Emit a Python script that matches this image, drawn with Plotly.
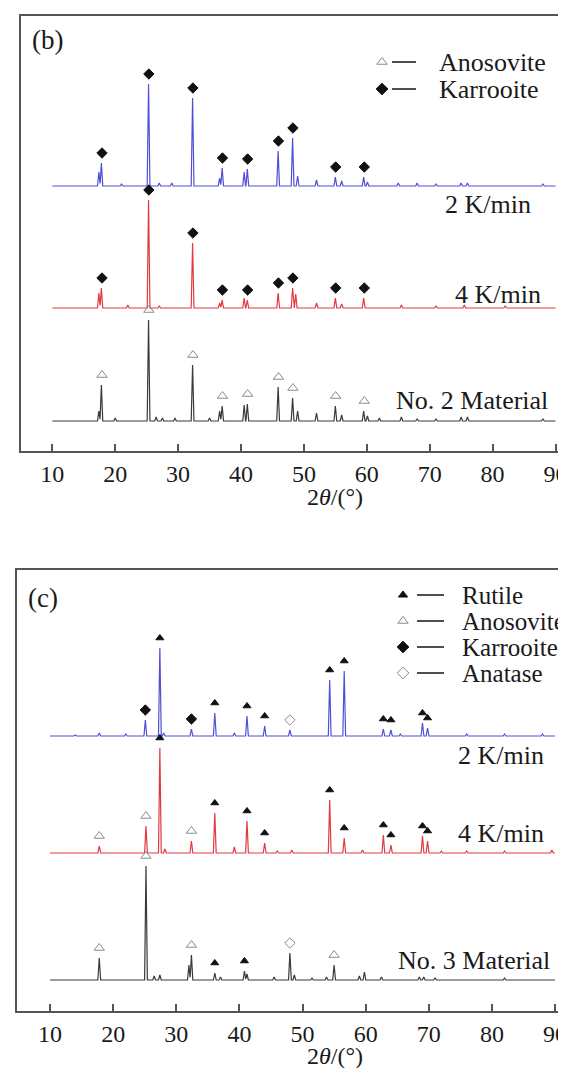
import plotly.graph_objects as go

W, H = 566, 1068
FONT = "Liberation Serif"

# ---------------- data: panel (b) ----------------
b_offsets = {"2 K/min": 265, "4 K/min": 143, "No. 2 Material": 30}

b_blue_pos = [17.4, 17.8, 21.0, 25.3, 27.0, 29.0, 32.3, 36.6, 37.0, 40.5, 41.0, 45.9, 48.2, 49.0, 52.0, 55.0, 56.0, 59.5, 60.1, 65.0, 68.0, 71.0, 75.0, 76.0, 88.0]
b_blue_int = [14, 23, 2, 102, 3, 3, 88, 8, 18, 14, 17, 35, 48, 10, 6, 9, 5, 9, 4, 3, 3, 2, 3, 3, 2]

b_red_pos = [17.4, 17.8, 22.0, 25.3, 27.0, 32.3, 36.6, 37.0, 40.5, 41.0, 45.9, 48.2, 48.7, 52.0, 55.0, 56.0, 59.5, 65.5, 71.0, 75.5, 82.0]
b_red_int = [15, 20, 3, 108, 2, 65, 5, 8, 10, 8, 15, 20, 14, 5, 10, 4, 10, 3, 2, 3, 2]

b_blk_pos = [17.4, 17.8, 20.0, 25.3, 26.5, 27.5, 29.5, 32.3, 35.0, 36.6, 37.0, 40.5, 41.0, 45.9, 48.2, 49.0, 52.0, 55.0, 56.0, 59.5, 60.1, 62.0, 65.5, 68.0, 71.0, 75.0, 76.0, 88.0]
b_blk_int = [10, 36, 3, 101, 4, 3, 3, 56, 3, 10, 15, 16, 17, 34, 23, 10, 8, 15, 6, 10, 5, 3, 4, 2, 2, 4, 4, 2]

b_karr_blue = [17.9, 25.35, 32.35, 37.05, 41.05, 45.95, 48.25, 55.05, 59.6]
b_karr_red = [17.9, 25.35, 32.35, 37.05, 41.05, 45.95, 48.25, 55.05, 59.6]
b_anos_blk = [17.9, 25.35, 32.35, 37.05, 41.05, 45.95, 48.25, 55.05, 59.6]

# ---------------- data: panel (c) ----------------
c_offsets = {"2 K/min": 275, "4 K/min": 158, "No. 3 Material": 31}

c_blue_pos = [14.0, 17.8, 22.0, 25.1, 27.4, 28.0, 32.4, 36.1, 39.2, 41.2, 44.0, 48.0, 54.3, 56.6, 62.8, 64.0, 65.5, 69.0, 69.8, 76.0, 82.0, 88.0]
c_blue_int = [1, 3, 2, 16, 88, 3, 7, 23, 3, 20, 10, 6, 56, 65, 7, 6, 2, 13, 8, 2, 2, 2]

c_red_pos = [17.8, 25.2, 27.4, 28.2, 32.4, 36.1, 39.2, 41.2, 44.0, 46.0, 48.3, 54.3, 56.6, 59.5, 62.8, 64.0, 69.0, 69.8, 72.0, 76.0, 82.0, 89.5]
c_red_int = [7, 27, 105, 4, 12, 40, 6, 32, 10, 2, 3, 53, 15, 3, 18, 8, 17, 12, 2, 2, 2, 3]

c_blk_pos = [17.8, 25.2, 26.5, 27.4, 32.0, 32.4, 36.1, 37.0, 40.8, 41.2, 45.5, 48.0, 48.7, 51.5, 53.8, 55.0, 59.0, 59.8, 62.5, 68.5, 69.2, 71.0, 82.0]
c_blk_int = [22, 114, 4, 5, 15, 25, 7, 3, 9, 6, 3, 27, 5, 2, 3, 15, 4, 8, 3, 3, 3, 2, 2]

c_rut_blue = [27.4, 36.1, 41.2, 44.0, 54.3, 56.6, 62.8, 64.0, 69.0, 69.8]
c_karr_blue = [25.1, 32.4]
c_anat_blue = [48.0]
c_rut_red = [27.4, 36.1, 41.2, 44.0, 54.3, 56.6, 62.8, 64.0, 69.0, 69.8]
c_anos_red = [17.8, 25.2, 32.4]
c_anos_blk = [17.8, 25.2, 32.4, 55.0]
c_rut_blk = [36.1, 40.8]
c_anat_blk = [48.0]

x_ticks = [10, 20, 30, 40, 50, 60, 70, 80, 90]

# ---------------- styles / layout geometry (pixels) ----------------
BLUE, RED, BLK = "#4f4fd8", "#e23a40", "#3a3a3a"
GREY = "#8a8a8a"
FRAME = "#555555"
HW = 0.22
GAP = 10

PB = dict(l=13, t=8, b=443, xr=[5.02, 92.94])
PC = dict(l=9, t=562, b=1003, xr=[4.77, 93.0])
for P in (PB, PC):
    P["yr"] = [0, P["b"] - P["t"]]


def px2data(P, px, py):
    x = P["xr"][0] + (px - P["l"]) / (W - P["l"]) * (P["xr"][1] - P["xr"][0])
    y = P["b"] - py
    return x, y


def profile(pos, inten, off):
    xs = {10.0, 90.0}
    for p in pos:
        xs.update([p - HW, p, p + HW])
    xs = sorted(x for x in xs if 10 <= x <= 90)
    ys = []
    for x in xs:
        s = 0.0
        for p, h in zip(pos, inten):
            d = abs(x - p)
            if d < HW:
                s += h * (1 - d / HW)
        ys.append(off + s)
    return xs, ys


def marker_y(pos, inten, off, marks):
    out = []
    for m in marks:
        hs = [h for p, h in zip(pos, inten) if abs(p - m) < 0.45]
        out.append(off + (max(hs) if hs else 0) + GAP)
    return out


fig = go.Figure()


def add_series(pos, inten, off, color, xa, ya):
    xs, ys = profile(pos, inten, off)
    fig.add_trace(go.Scatter(x=xs, y=ys, mode="lines", line=dict(color=color, width=1.2),
                             xaxis=xa, yaxis=ya, showlegend=False, hoverinfo="skip"))


def add_marks(xs, ys, symbol, color, size, xa, ya):
    fig.add_trace(go.Scatter(x=xs, y=ys, mode="markers",
                             marker=dict(symbol=symbol, color=color, size=size,
                                         line=dict(color=color, width=1)),
                             xaxis=xa, yaxis=ya, showlegend=False, hoverinfo="skip", cliponaxis=False))


def add_peak_marks(pos, inten, off, marks, symbol, color, size, xa, ya):
    add_marks(marks, marker_y(pos, inten, off, marks), symbol, color, size, xa, ya)


# panel (b)
ob = b_offsets
add_series(b_blue_pos, b_blue_int, ob["2 K/min"], BLUE, "x", "y")
add_series(b_red_pos, b_red_int, ob["4 K/min"], RED, "x", "y")
add_series(b_blk_pos, b_blk_int, ob["No. 2 Material"], BLK, "x", "y")
add_peak_marks(b_blue_pos, b_blue_int, ob["2 K/min"], b_karr_blue, "diamond", "#111111", 8, "x", "y")
add_peak_marks(b_red_pos, b_red_int, ob["4 K/min"], b_karr_red, "diamond", "#111111", 8, "x", "y")
add_peak_marks(b_blk_pos, b_blk_int, ob["No. 2 Material"], b_anos_blk, "triangle-up-open", GREY, 9, "x", "y")

# panel (c)
oc = c_offsets
add_series(c_blue_pos, c_blue_int, oc["2 K/min"], BLUE, "x2", "y2")
add_series(c_red_pos, c_red_int, oc["4 K/min"], RED, "x2", "y2")
add_series(c_blk_pos, c_blk_int, oc["No. 3 Material"], BLK, "x2", "y2")
add_peak_marks(c_blue_pos, c_blue_int, oc["2 K/min"], c_rut_blue, "triangle-up", "#111111", 7, "x2", "y2")
add_peak_marks(c_blue_pos, c_blue_int, oc["2 K/min"], c_karr_blue, "diamond", "#111111", 8, "x2", "y2")
add_peak_marks(c_blue_pos, c_blue_int, oc["2 K/min"], c_anat_blue, "diamond-open", GREY, 8, "x2", "y2")
add_peak_marks(c_red_pos, c_red_int, oc["4 K/min"], c_rut_red, "triangle-up", "#111111", 7, "x2", "y2")
add_peak_marks(c_red_pos, c_red_int, oc["4 K/min"], c_anos_red, "triangle-up-open", GREY, 9, "x2", "y2")
add_peak_marks(c_blk_pos, c_blk_int, oc["No. 3 Material"], c_anos_blk, "triangle-up-open", GREY, 9, "x2", "y2")
add_peak_marks(c_blk_pos, c_blk_int, oc["No. 3 Material"], c_rut_blk, "triangle-up", "#111111", 7, "x2", "y2")
add_peak_marks(c_blk_pos, c_blk_int, oc["No. 3 Material"], c_anat_blk, "diamond-open", GREY, 8, "x2", "y2")

# legends
legend_b = [("Anosovite", "triangle-up-open", GREY, 9, 54), ("Karrooite", "diamond", "#111111", 9, 81)]
legend_c = [("Rutile", "triangle-up", "#111111", 8, 587), ("Anosovite", "triangle-up-open", GREY, 9, 613),
            ("Karrooite", "diamond", "#111111", 9, 639), ("Anatase", "diamond-open", GREY, 9, 665)]

annos = []
shapes = []
for P, xa, ya, items, sx, d0, d1, tx, fs in [(PB, "x", "y", legend_b, 374, 384, 408, 429, 26),
                                             (PC, "x2", "y2", legend_c, 395, 409, 436, 452, 25)]:
    for name, sym, col, sz, py in items:
        mx, my = px2data(P, sx, py)
        add_marks([mx], [my], sym, col, sz, xa, ya)
        shapes.append(dict(type="line", xref="paper", yref="paper", x0=d0 / W, x1=d1 / W,
                           y0=1 - py / H, y1=1 - py / H, line=dict(color="#222222", width=1.6)))
        annos.append(dict(x=tx / W, y=1 - py / H, xref="paper", yref="paper", text=name,
                          xanchor="left", yanchor="middle", showarrow=False,
                          font=dict(family=FONT, size=fs, color="#1a1a1a")))


def txt(text, px, py, anchor="right", size=26):
    annos.append(dict(x=px / W, y=1 - py / H, xref="paper", yref="paper", text=text,
                      xanchor=anchor, yanchor="middle", showarrow=False,
                      font=dict(family=FONT, size=size, color="#1a1a1a")))


txt("(b)", 22, 32, "left", 27)
txt("(c)", 18, 590, "left", 27)
txt("2 K/min", 525, 197)
txt("4 K/min", 535, 286)
txt("No. 2 Material", 542, 392)
txt("2 K/min", 538, 747)
txt("4 K/min", 538, 825)
txt("No. 3 Material", 544, 952)
txt("2<i>θ</i>/(°)", 327, 489, "center", 24)
txt("2<i>θ</i>/(°)", 327, 1048, "center", 24)

xcommon = dict(tickvals=x_ticks, ticks="inside", ticklen=7, tickwidth=1.5, tickcolor=FRAME,
               showline=True, linecolor=FRAME, linewidth=1.8, mirror=True, showgrid=False, zeroline=False,
               tickfont=dict(family=FONT, size=24, color="#1a1a1a"))
ycommon = dict(showline=True, linecolor=FRAME, linewidth=1.8, showticklabels=False, ticks="",
               showgrid=False, zeroline=False)

fig.update_layout(
    width=W, height=H, margin=dict(l=0, r=0, t=0, b=0), autosize=False,
    paper_bgcolor="white", plot_bgcolor="white",
    xaxis=dict(domain=[PB["l"] / W, 1], range=PB["xr"], anchor="y", **xcommon),
    yaxis=dict(domain=[1 - PB["b"] / H, 1 - PB["t"] / H], range=PB["yr"], anchor="x", **ycommon),
    xaxis2=dict(domain=[PC["l"] / W, 1], range=PC["xr"], anchor="y2", **xcommon),
    yaxis2=dict(domain=[1 - PC["b"] / H, 1 - PC["t"] / H], range=PC["yr"], anchor="x2", **ycommon),
    annotations=annos, shapes=shapes,
)

fig.write_html("out.html")
